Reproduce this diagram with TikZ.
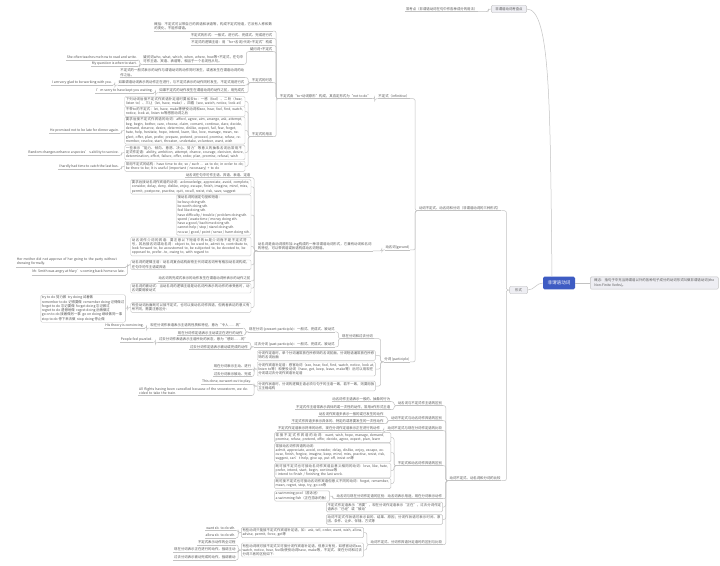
\documentclass[tikz,border=0pt]{standalone}
\usepackage{fontspec}
\setmainfont{Noto Sans CJK SC}
\XeTeXlinebreaklocale "zh"
\XeTeXlinebreakskip=0pt plus 1pt
\usepackage{tikz}
\usetikzlibrary{positioning}

\definecolor{linegray}{HTML}{C2C2C2}
\definecolor{rootblue}{HTML}{3E5CC3}
\definecolor{ink}{HTML}{555555}
\definecolor{hubfill}{HTML}{EEEEF3}

\begin{document}
\begin{tikzpicture}[
    font=\fontsize{3.4pt}{4.3pt}\selectfont,
    link/.style={draw=linegray, line width=0.5pt, rounded corners=2pt},
    elbow/.style={link, to path={-- ++(-3pt,0pt) |- (\tikztotarget)}},
    leaf/.style={inner xsep=0.6pt, inner ysep=0.9pt, text=ink, align=left},
    card/.style={draw=linegray, rounded corners=1.2pt, fill=white, inner sep=1.1pt, text=ink, align=left},
    hub/.style={draw=linegray, fill=hubfill, rounded corners=1.2pt, inner xsep=4pt, inner ysep=2.2pt, text=ink, align=left},
    root/.style={fill=rootblue, rounded corners=1.5pt, text=white, font=\fontsize{4.6pt}{5.5pt}\selectfont, inner xsep=4.5pt, inner ysep=4.2pt}
]
\useasboundingbox[fill=white] (0pt,0pt) rectangle (720pt,-565pt);

% centre
\node[root] (R) at (559pt,-283pt) {非谓语动词};
\node[hub, text width=120pt, right=15pt of R] (C) {概念：指句子中充当除谓语以外的各种句子成分的动词形式叫做非谓语动词(the Non-Finite Verbs)。};
\node[hub] (K) at (509pt,-9pt) {非谓语动词考查点};
\node[leaf, left=13pt of K] (K1) {常考点（非谓语动词在句中作各种成分的用法）};
\node[hub, minimum width=18pt, left=15pt of R, yshift=-7pt] (F) {形式};
\node[leaf, left=8pt of F, yshift=82pt] (F1) {动词不定式、动名词和分词（非谓语动词的三种形式）};
\node[leaf, left=8pt of F, yshift=-188pt] (F2) {动词不定式、动名词和分词的比较};

% infinitive
\node[leaf, left=8pt of F1, yshift=112pt] (I) {不定式（infinitive）};
\node[leaf, left=6pt of I] (I0) {不定式由“to+动词原形”构成，其否定形式为“not to do”};
\node[leaf, text width=118pt, left=6pt of I0, yshift=69.8pt] (I1) {概括：不定式可以带自己的宾语和状语等，构成不定式短语，它没有人称和数的变化，不能作谓语。};
\node[leaf, left=6pt of I0, yshift=60.3pt] (I2) {不定式的形式：一般式、进行式、完成式、完成进行式};
\node[leaf, left=6pt of I0, yshift=53.3pt] (I3) {不定式的逻辑主语：用“for+名词/代词+不定式”构成};
\node[leaf, left=6pt of I0, yshift=47pt] (I4) {疑问词+不定式};
\node[leaf, left=6pt of I0, yshift=16pt] (I5) {不定式的时态};
\node[leaf, left=6pt of I0, yshift=-38pt] (I6) {不定式的用法};
\node[leaf, text width=100pt, left=5pt of I4, yshift=-10.5pt] (I41) {疑问词who, what, which, when, where, how等+不定式，在句中可作主语、宾语、表语等，相当于一个名词性从句。};
\node[leaf, left=5pt of I41, yshift=2.2pt] (I411) {She often teaches me how to read and write.};
\node[leaf, left=5pt of I41, yshift=-4.2pt] (I412) {My question is when to start.};
\node[leaf, text width=124pt, left=6pt of I5, yshift=7.2pt] (I51) {不定式的一般式表示的动作与谓语动词的动作同时发生，或者发生在谓语动词的动作之后。};
\node[leaf, left=6pt of I5, yshift=-2.3pt] (I52) {如果谓语动词表示的动作正在进行，与不定式表示的动作同时发生，不定式用进行式};
\node[leaf, left=6pt of I5, yshift=-10pt] (I53) {如果不定式的动作发生在谓语动词的动作之前，用完成式};
\node[leaf, left=5pt of I52] (I521) {I am very glad to be working with you.};
\node[leaf, left=5pt of I53] (I531) {I'm sorry to have kept you waiting.};
\node[card, text width=118pt, left=6pt of I6, yshift=32.5pt] (I61) {下列动词后接不定式作宾语补足语时要省去to：一感（feel）、二听（hear, listen to）、三让（let, have, make）、四看（see, watch, notice, look at）};
\node[card, text width=118pt, left=6pt of I6, yshift=22.5pt] (I62) {不带to的不定式：let, have, make等使役动词和see, hear, feel, find, watch, notice, look at, listen to等感官动词之后};
\node[card, text width=118pt, left=6pt of I6, yshift=3.5pt] (I63) {要求后接不定式作宾语的动词：afford, agree, aim, arrange, ask, attempt, beg, begin, bother, care, choose, claim, consent, continue, dare, decide, demand, deserve, desire, determine, dislike, expect, fail, fear, forget, hate, help, hesitate, hope, intend, learn, like, love, manage, mean, neglect, offer, plan, prefer, prepare, pretend, proceed, promise, refuse, remember, resolve, start, threaten, undertake, volunteer, want, wish};
\node[card, text width=118pt, left=6pt of I6, yshift=-18.5pt] (I64) {一些表示“能力、倾向、意愿、决心、努力”等意义的抽象名词后常用不定式作定语：ability, ambition, attempt, chance, courage, decision, desire, determination, effort, failure, offer, order, plan, promise, refusal, wish};
\node[card, text width=118pt, left=6pt of I6, yshift=-32.3pt] (I65) {常用不定式的结构：have time to do; so / such ... as to do; in order to do; be there to be; It is useful (important / necessary) + to do};
\node[leaf, left=5pt of I63] (I631) {He promised not to be late for dinner again.};
\node[leaf, left=5pt of I64] (I641) {Random changes enhance a species' s ability to survive.};
\node[leaf, left=5pt of I65] (I651) {I hardly had time to catch the last bus.};

% gerund
\node[leaf, left=8pt of F1, yshift=-39pt] (G) {动名词(gerund)};
\node[leaf, text width=114pt, left=12pt of G, yshift=1pt] (G0) {动名词是由动词原形加-ing构成的一种非谓语动词形式，它兼有动词和名词的特征，可以带宾语或状语构成动名词短语。};
\node[leaf, left=6pt of G0, yshift=71pt] (G1) {动名词在句中可作主语、宾语、表语、定语};
\node[card, text width=118pt, left=6pt of G0, yshift=59.2pt] (G2) {要求后接动名词作宾语的动词：acknowledge, appreciate, avoid, complete, consider, delay, deny, dislike, enjoy, escape, finish, imagine, mind, miss, permit, postpone, practise, quit, recall, resist, risk, save, suggest};
\node[card, left=6pt of G0, yshift=31pt] (G3) {接动名词的固定句型和短语：\\be busy doing sth.\\be worth doing sth.\\feel like doing sth.\\have difficulty / trouble / problem doing sth.\\spend / waste time / money doing sth.\\have a good / bad time doing sth.\\cannot help / stop / stand doing sth.\\no use / good / point / sense / harm doing sth.};
\node[card, text width=118pt, left=6pt of G0, yshift=-0.5pt] (G4) {动名词作介词的宾语：要注意以下短语中的to是介词而不是不定式符号，其后接名词或动名词：object to, be used to, admit to, contribute to, look forward to, be accustomed to, be subjected to, be devoted to, be opposed to, prefer...to, owing to, with regard to};
\node[card, text width=118pt, left=6pt of G0, yshift=-18.8pt] (G5) {动名词的逻辑主语：动名词复合结构由物主代词或名词所有格加动名词构成，在句中可作主语或宾语};
\node[leaf, left=6pt of G0, yshift=-32.3pt] (G6) {动名词的完成式表示的动作发生在谓语动词所表示的动作之前};
\node[card, text width=118pt, left=6pt of G0, yshift=-42.2pt] (G7) {动名词的被动式：当动名词的逻辑主语是动名词所表示的动作的承受者时，动名词要用被动式};
\node[card, text width=118pt, left=6pt of G0, yshift=-61.5pt] (G8) {有些动词后面既可以接不定式，也可以接动名词作宾语，但两者表达的意义有所不同，需要注意区分：};
\node[leaf, text width=108pt, left=5pt of G5, yshift=3pt] (G51) {Her mother did not approve of her going to the party without dressing formally.};
\node[leaf, left=5pt of G5, yshift=-7pt] (G52) {Mr. Smith was angry at Mary's coming back home so late.};
\node[card, left=5pt of G8, yshift=-1pt] (G81) {try to do 努力做 \ try doing 试着做\\remember to do 记得要做 \ remember doing 记得做过\\forget to do 忘记要做 \ forget doing 忘记做过\\regret to do 遗憾地做 \ regret doing 后悔做过\\go on to do 接着做另一事 \ go on doing 继续做同一事\\stop to do 停下来去做 \ stop doing 停止做};

% participle
\node[leaf, left=8pt of F1, yshift=-151pt] (P) {分词 (participle)};
\node[leaf, left=10pt of P, yshift=23pt] (P1) {现在分词和过去分词};
\node[card, text width=116pt, left=8pt of P, yshift=3.5pt] (P2) {分词作定语时，单个分词通常放在所修饰的名词前面，分词短语通常放在所修饰的名词后面};
\node[card, text width=116pt, left=8pt of P, yshift=-10pt] (P3) {分词作宾语补足语：感官动词（see, hear, feel, find, watch, notice, look at, listen to等）和使役动词（have, get, keep, leave, make等）后可以用现在分词或过去分词作宾语补足语};
\node[card, text width=116pt, left=8pt of P, yshift=-27pt] (P4) {分词作状语时，分词的逻辑主语必须与句子的主语一致，若不一致，则要用独立主格结构};
\node[leaf, left=6pt of P1, yshift=7pt] (P11) {现在分词 (present participle)：一般式、完成式、被动式};
\node[leaf, left=6pt of P1, yshift=-8pt] (P12) {过去分词 (past participle)：一般式、完成式、被动式};
\node[leaf, left=5pt of P11, yshift=3.7pt] (P111) {现在分词作表语表示主语的性质和特征，意为“令人……的”};
\node[leaf, left=5pt of P11, yshift=-3.7pt] (P112) {现在分词作定语表示主动或正在进行的动作};
\node[leaf, left=5pt of P111] (P1111) {His theory is convincing.};
\node[leaf, left=5pt of P12, yshift=4.3pt] (P121) {过去分词作表语表示主语所处的状态，意为“感到……的”};
\node[leaf, left=5pt of P12, yshift=-3pt] (P122) {过去分词作定语表示被动或完成的动作};
\node[leaf, left=5pt of P121] (P1211) {People feel puzzled.};
\node[leaf, left=5pt of P3, yshift=2.7pt] (P31) {现在分词表示主动、进行};
\node[leaf, left=5pt of P3, yshift=-4.7pt] (P32) {过去分词表示被动、完成};
\node[leaf, left=5pt of P4, yshift=4.7pt] (P41) {This done, we went out to play.};
\node[leaf, text width=112pt, left=5pt of P4, yshift=-4.8pt] (P42) {All flights having been cancelled because of the snowstorm, we decided to take the train.};

% comparison
\node[leaf, left=6pt of F2, yshift=75pt] (Q1) {动名词与不定式作主语的区别};
\node[leaf, left=6pt of F2, yshift=60pt] (Q2) {动词不定式与动名词作宾语的区别};
\node[leaf, left=6pt of F2, yshift=50pt] (Q3) {动词不定式与现在分词作定语的比较};
\node[leaf, left=6pt of F2, yshift=15pt] (Q4) {不定式和动名词作宾语的区别};
\node[leaf, left=6pt of F2, yshift=-18pt] (Q5) {动名词与现在分词作定语的区别：动名词表示用途，现在分词表示动作};
\node[card, text width=114pt, left=6pt of F2, yshift=-29pt] (Q6) {不定式作定语表示“将要”，现在分词作定语表示“正在”，过去分词作定语表示“已经”或“被动”};
\node[card, text width=114pt, left=6pt of F2, yshift=-41.5pt] (Q7) {动词不定式作状语可表示目的、结果、原因；分词作状语可表示时间、原因、条件、让步、伴随、方式等};
\node[leaf, left=6pt of F2, yshift=-64pt] (Q8) {动词不定式、分词作宾语补足语时的区别与比较};
\node[leaf, left=6pt of Q1, yshift=4pt] (Q11) {动名词作主语表示一般的、抽象的行为};
\node[leaf, left=6pt of Q1, yshift=-4pt] (Q12) {不定式作主语常表示具体的或一次性的动作，常用it作形式主语};
\node[leaf, left=6pt of Q2, yshift=4pt] (Q21) {动名词作宾语多表示一般的或已发生的动作};
\node[leaf, left=6pt of Q2, yshift=-3pt] (Q22) {不定式作宾语多表示具体的、特定的或将要发生的一次性动作};
\node[leaf, left=6pt of Q3] (Q31) {不定式作定语表示将来的动作，现在分词作定语表示正在进行的动作};
\node[card, text width=114pt, left=6pt of Q4, yshift=25.5pt] (Q41) {常接不定式作宾语的动词：want, wish, hope, manage, demand, promise, refuse, pretend, offer, decide, agree, expect, plan, learn};
\node[card, text width=114pt, left=6pt of Q4, yshift=10.5pt] (Q42) {常接动名词作宾语的动词：\\admit, appreciate, avoid, consider, delay, dislike, enjoy, escape, excuse, finish, forgive, imagine, keep, mind, miss, practise, resist, risk, suggest, can't help, give up, put off, insist on等};
\node[card, text width=114pt, left=6pt of Q4, yshift=-7.5pt] (Q43) {既可接不定式也可接动名词作宾语且意义相同的动词：love, like, hate, prefer, intend, start, begin, continue等\\I intend to finish / finishing the last work.};
\node[card, text width=114pt, left=6pt of Q4, yshift=-20.5pt] (Q44) {既可接不定式也可接动名词作宾语但意义不同的动词：forget, remember, mean, regret, stop, try, go on等};
\node[card, left=6pt of Q5] (Q51) {a swimming pool（游泳池）\\a swimming fish（正在游泳的鱼）};
\node[card, text width=120pt, left=6pt of Q8, yshift=9.5pt] (Q81) {有些动词只能接不定式作宾语补足语，如：ask, tell, order, want, wish, allow, advise, permit, force, get等};
\node[card, text width=120pt, left=6pt of Q8, yshift=-8pt] (Q82) {有些动词既可接不定式又可接分词作宾语补足语，但意义有别，如感官动词see, watch, notice, hear, feel及使役动词have, make等，不定式、现在分词和过去分词三者的区别如下：};
\node[leaf, left=5pt of Q81, yshift=4.5pt] (Q811) {want sb. to do sth.};
\node[leaf, left=5pt of Q81, yshift=-3pt] (Q812) {allow sb. to do sth.};
\node[leaf, left=5pt of Q82, yshift=7.7pt] (Q821) {不定式表示动作的全过程};
\node[leaf, left=5pt of Q82, yshift=0.3pt] (Q822) {现在分词表示正在进行的动作，强调主动};
\node[leaf, left=5pt of Q82, yshift=-7.3pt] (Q823) {过去分词表示被动完成的动作，强调被动};

% connectors
\draw[link] (R.east) -- (C.west);
\draw[link] (R.west) to[out=180, in=0] (F.east);
\draw[link] ([xshift=-7pt]R.north) .. controls +(-2pt,170pt) and +(24pt,0pt) .. (K.east);
\path (K.west) edge[elbow] (K1.south east);
\path (F.west) edge[elbow] (F1.south east) edge[elbow] (F2.south east);
\path (F1.south west) edge[elbow] (I.south east) edge[elbow] (G.south east) edge[elbow] (P.south east);
\path (I.south west) edge[elbow] (I0.south east);
\path (I0.south west) edge[elbow] (I1.south east) edge[elbow] (I2.south east) edge[elbow] (I3.south east)
    edge[elbow] (I4.south east) edge[elbow] (I5.south east) edge[elbow] (I6.south east);
\path (I4.south west) edge[elbow] (I41.south east);
\path (I41.south west) edge[elbow] (I411.south east) edge[elbow] (I412.south east);
\path (I5.south west) edge[elbow] (I51.south east) edge[elbow] (I52.south east) edge[elbow] (I53.south east);
\path (I52.south west) edge[elbow] (I521.south east);
\path (I53.south west) edge[elbow] (I531.south east);
\path (I6.south west) edge[elbow] (I61.east) edge[elbow] (I62.east) edge[elbow] (I63.east)
    edge[elbow] (I64.east) edge[elbow] (I65.east);
\path (I63.west) edge[elbow] (I631.south east);
\path (I64.west) edge[elbow] (I641.south east);
\path (I65.west) edge[elbow] (I651.south east);
\path (G.south west) edge[elbow] (G0.south east);
\path (G0.south west) edge[elbow] (G1.south east) edge[elbow] (G2.east) edge[elbow] (G3.east) edge[elbow] (G4.east)
    edge[elbow] (G5.east) edge[elbow] (G6.south east) edge[elbow] (G7.east) edge[elbow] (G8.east);
\path (G5.west) edge[elbow] (G51.south east) edge[elbow] (G52.south east);
\path (G8.west) edge[elbow] (G81.east);
\path (P.south west) edge[elbow] (P1.south east) edge[elbow] (P2.east) edge[elbow] (P3.east) edge[elbow] (P4.east);
\path (P1.south west) edge[elbow] (P11.south east) edge[elbow] (P12.south east);
\path (P11.south west) edge[elbow] (P111.south east) edge[elbow] (P112.south east);
\path (P111.south west) edge[elbow] (P1111.south east);
\path (P12.south west) edge[elbow] (P121.south east) edge[elbow] (P122.south east);
\path (P121.south west) edge[elbow] (P1211.south east);
\path (P3.west) edge[elbow] (P31.south east) edge[elbow] (P32.south east);
\path (P4.west) edge[elbow] (P41.south east) edge[elbow] (P42.south east);
\path (F2.south west) edge[elbow] (Q1.south east) edge[elbow] (Q2.south east) edge[elbow] (Q3.south east)
    edge[elbow] (Q4.south east) edge[elbow] (Q5.south east) edge[elbow] (Q6.east) edge[elbow] (Q7.east)
    edge[elbow] (Q8.south east);
\path (Q1.south west) edge[elbow] (Q11.south east) edge[elbow] (Q12.south east);
\path (Q2.south west) edge[elbow] (Q21.south east) edge[elbow] (Q22.south east);
\path (Q3.south west) edge[elbow] (Q31.south east);
\path (Q4.south west) edge[elbow] (Q41.east) edge[elbow] (Q42.east) edge[elbow] (Q43.east) edge[elbow] (Q44.east);
\path (Q5.south west) edge[elbow] (Q51.east);
\path (Q8.south west) edge[elbow] (Q81.east) edge[elbow] (Q82.east);
\path (Q81.west) edge[elbow] (Q811.south east) edge[elbow] (Q812.south east);
\path (Q82.west) edge[elbow] (Q821.south east) edge[elbow] (Q822.south east) edge[elbow] (Q823.south east);

% underlines of the plain topics
\foreach \n in {K1,F1,F2,I,I0,I1,I2,I3,I4,I5,I6,I41,I411,I412,I51,I52,I53,I521,I531,I631,I641,I651,
    G,G0,G1,G6,G51,G52,P,P1,P11,P12,P111,P112,P1111,P121,P122,P1211,P31,P32,P41,P42,
    Q1,Q2,Q3,Q4,Q5,Q8,Q11,Q12,Q21,Q22,Q31,Q811,Q812,Q821,Q822,Q823}
    \draw[link] (\n.south west) -- (\n.south east);
\end{tikzpicture}
\end{document}
